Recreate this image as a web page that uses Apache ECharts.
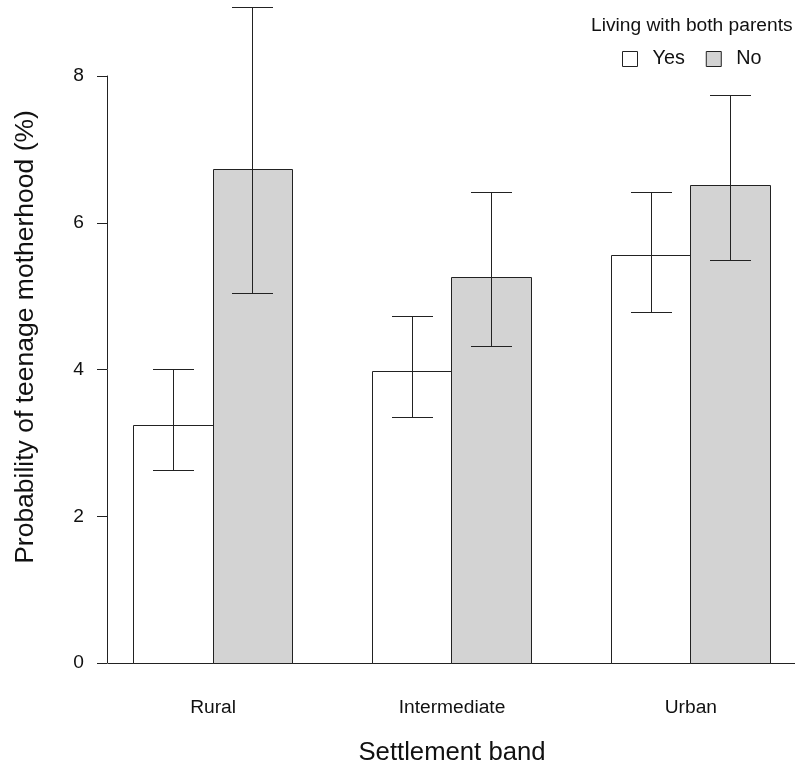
<!DOCTYPE html>
<html>
<head>
<meta charset="utf-8">
<script src="https://cdn.jsdelivr.net/npm/echarts@6.0.0/dist/echarts.min.js"></script>
<style>
html,body{margin:0;padding:0;background:#fff;}
#chart{width:795px;height:765px;}
</style>
</head>
<body>
<div id="chart"></div>
<script>
// ---- data ----
const categories = ['Rural', 'Intermediate', 'Urban'];
const groupNames = ['Yes', 'No'];
const yesValues = [3.24, 3.97, 5.55];
const yesLower  = [2.62, 3.35, 4.78];
const yesUpper  = [4.00, 4.72, 6.41];
const noValues  = [6.73, 5.26, 6.51];
const noLower   = [5.03, 4.31, 5.48];
const noUpper   = [8.94, 6.41, 7.73];
const yTicks = [0, 2, 4, 6, 8];
const legendTitle = 'Living with both parents';
const xTitle = 'Settlement band';
const yTitle = 'Probability of teenage motherhood (%)';

// ---- styling ----
const FONT = '"Liberation Sans", Arial, sans-serif';
const INK = '#111';
const LINE = '#222';
const fills = ['#ffffff', '#d3d3d3'];

function crisp(v) { return Math.round(v - 0.5) + 0.5; }

function makeSeries(s, values, lower, upper) {
  const data = values.map((v, i) => [i, v, lower[i], upper[i]]);
  return {
    name: groupNames[s],
    type: 'custom',
    clip: false,
    itemStyle: { color: fills[s], borderColor: LINE, borderWidth: 1 },
    data: data,
    renderItem: function (params, api) {
      const i = api.value(0), v = api.value(1), lo = api.value(2), hi = api.value(3);
      // R barplot layout: bar width 1, one unit gap between groups
      const left = 1 + 3 * i + s;
      const pTop = api.coord([left, v]);
      const pBot = api.coord([left + 1, 0]);
      const x0 = crisp(pTop[0]), x1 = crisp(pBot[0]);
      const yT = crisp(pTop[1]), yB = crisp(pBot[1]);
      const cx = crisp(api.coord([left + 0.5, 0])[0]);
      const yLo = crisp(api.coord([left, lo])[1]);
      const yHi = crisp(api.coord([left, hi])[1]);
      const hw = 20.5;
      const ls = { stroke: LINE, lineWidth: 1 };
      return {
        type: 'group',
        children: [
          { type: 'rect', shape: { x: x0, y: yT, width: x1 - x0, height: yB - yT },
            style: { fill: fills[s], stroke: LINE, lineWidth: 1 } },
          { type: 'line', shape: { x1: cx, y1: yLo, x2: cx, y2: yHi }, style: ls },
          { type: 'line', shape: { x1: cx - hw, y1: yLo, x2: cx + hw, y2: yLo }, style: ls },
          { type: 'line', shape: { x1: cx - hw, y1: yHi, x2: cx + hw, y2: yHi }, style: ls }
        ]
      };
    },
    z: 3
  };
}

const chart = echarts.init(document.getElementById('chart'), null, { renderer: 'canvas' });
chart.setOption({
  backgroundColor: '#fff',
  animation: false,
  textStyle: { fontFamily: FONT },
  title: {
    text: legendTitle,
    left: 591, top: 16, padding: 0,
    textStyle: { fontFamily: FONT, fontSize: 19.2, fontWeight: 'normal', color: INK }
  },
  legend: {
    left: 622, top: 49, padding: 0,
    itemWidth: 15, itemHeight: 15, itemGap: 21,
    selectedMode: false,
    textStyle: { fontFamily: FONT, fontSize: 19.8, color: INK, padding: [0, 0, 0, 10] },
    data: groupNames.map((n, s) => ({
      name: n, icon: 'rect',
      itemStyle: { color: fills[s], borderColor: LINE, borderWidth: 1 }
    }))
  },
  grid: { left: 108, right: -1, top: 76, bottom: 102, containLabel: false, outerBoundsMode: 'none' },
  xAxis: {
    type: 'value',
    min: 0.68, max: 9.32,
    name: xTitle,
    nameLocation: 'middle',
    nameGap: 77,
    nameTextStyle: { fontFamily: FONT, fontSize: 25.7, color: INK },
    axisLine: { show: true, lineStyle: { color: LINE, width: 1 } },
    axisTick: { show: false },
    splitLine: { show: false },
    axisLabel: {
      customValues: categories.map((c, i) => 2 + 3 * i),
      formatter: function (v) { return categories[Math.round((v - 2) / 3)]; },
      fontFamily: FONT, fontSize: 19.2, color: INK, margin: 35
    }
  },
  yAxis: {
    type: 'value',
    min: yTicks[0], max: yTicks[yTicks.length - 1], interval: 2,
    offset: 1,
    axisLine: { show: true, lineStyle: { color: LINE, width: 1 } },
    axisTick: { show: true, length: 10, lineStyle: { color: LINE, width: 1 } },
    splitLine: { show: false },
    axisLabel: { fontFamily: FONT, fontSize: 19.2, color: INK, margin: 23 }
  },
  graphic: [{
    type: 'text',
    x: 25.5, y: 337,
    rotation: Math.PI / 2,
    style: {
      text: yTitle,
      fontFamily: FONT, fontSize: 26.5, fill: INK,
      align: 'center', verticalAlign: 'middle'
    }
  }],
  series: [
    makeSeries(0, yesValues, yesLower, yesUpper),
    makeSeries(1, noValues, noLower, noUpper)
  ]
});
</script>
</body>
</html>
